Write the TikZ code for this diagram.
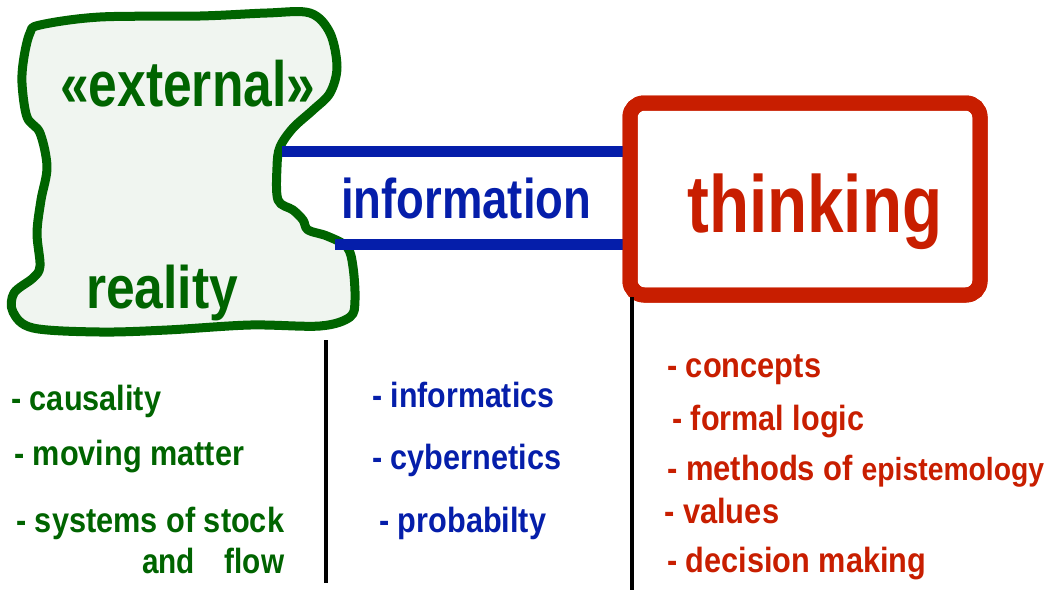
\documentclass[tikz,border=0pt]{standalone}
\usepackage{fontspec}
\setmainfont{Liberation Sans}
\usepackage{graphicx}
\definecolor{grn}{RGB}{0,100,0}
\definecolor{blobfill}{RGB}{240,245,240}
\definecolor{blu}{RGB}{5,30,170}
\definecolor{rd}{RGB}{200,30,0}
\newsavebox\fitbox
\newlength\fitlen
\newcommand\fitw[3]{\sbox\fitbox{\fontsize{#2}{#2}\selectfont\bfseries #3}\fitlen=\wd\fitbox\scalebox{\fpeval{#1*65536/\number\fitlen}}[1]{\usebox\fitbox}}
\tikzset{
  lbl/.style={inner sep=0pt, anchor=base west},
  gtxt/.style={lbl, text=grn},
  btxt/.style={lbl, text=blu},
  rtxt/.style={lbl, text=rd},
  infobar/.style={draw=blu, line width=11pt},
  divider/.style={draw=black, line width=4pt},
  thinkbox/.style={draw=rd, line width=15pt, rounded corners=14pt, minimum width=350pt,
      minimum height=192pt, inner sep=0pt, outer sep=0pt},
}
\begin{document}
\begin{tikzpicture}[x=1pt,y=-1pt]
\useasboundingbox (0,0) rectangle (1048,590);
% blob
\path[draw=grn, fill=blobfill, line width=9pt, line join=round]
  plot[smooth cycle, tension=0.55] coordinates {
  (40,25) (100,17) (200,16) (267,13) (310,13) (330,33) (337,67) (330,93) (313,110)
  (293,128) (280,147) (277,167) (278,200) (293,210) (303,220) (308,230) (327,236)
  (347,247) (353,267) (355,300) (350,317) (320,326) (250,325) (167,330) (100,332)
  (33,328) (13,312) (14,293) (33,278) (40,266) (37,233) (41,200) (47,167) (40,133)
  (27,117) (22,83) (24,57) (30,33)};
% thinking box
\node[thinkbox] (think) at (805,199) {};
% information bars
\coordinate (i1) at (282,151);
\coordinate (i2) at (335,244);
\draw[infobar] (i1) -- (i1 -| think.west);
\draw[infobar] (i2) -- (i2 -| think.west);
\node[thinkbox] at (think) {};
% dividers
\coordinate (d1) at (326,340);
\coordinate (d1b) at (326,583);
\draw[divider] (d1) -- (d1b);
\coordinate (d2) at (632,297);
\coordinate (d2b) at (632,590);
\draw[divider] (d2) -- (d2b);
% headings
\node[gtxt] (ext) at (60,106) {\fitw{255}{64}{«external»}};
\node[gtxt] (real) at (86,308) {\fitw{152}{60}{reality}};
\node[btxt] (info) at (341,218) {\fitw{250}{56}{information}};
\node[rtxt] (thk) at (687,232) {\fitw{255}{81}{thinking}};
% green list
\node[gtxt] (g1) at (11,410) {\fitw{150}{35}{- causality}};
\node[gtxt] (g2) at (14,465) {\fitw{230}{35}{- moving matter}};
\node[gtxt] (g3) at (16,532) {\fitw{268}{35}{- systems of stock}};
\node[gtxt] (g4) at (142,573) {\fitw{142}{35}{and\quad flow}};
% blue list
\node[btxt] (b1) at (372,407) {\fitw{182}{35}{- informatics}};
\node[btxt] (b2) at (372,469) {\fitw{189}{35}{- cybernetics}};
\node[btxt] (b3) at (379,532) {\fitw{167}{35}{- probabilty}};
% red list
\node[rtxt] (r1) at (667,377) {\fitw{154}{35}{- concepts}};
\node[rtxt] (r2) at (672,430) {\fitw{192}{35}{- formal logic}};
\node[rtxt] (r3) at (667,480) {\fitw{377}{35}{- methods of {\fontsize{32}{32}\selectfont epistemology}}};
\node[rtxt] (r4) at (664,523) {\fitw{115}{35}{- values}};
\node[rtxt] (r5) at (667,572) {\fitw{259}{35}{- decision making}};
\end{tikzpicture}
\end{document}
